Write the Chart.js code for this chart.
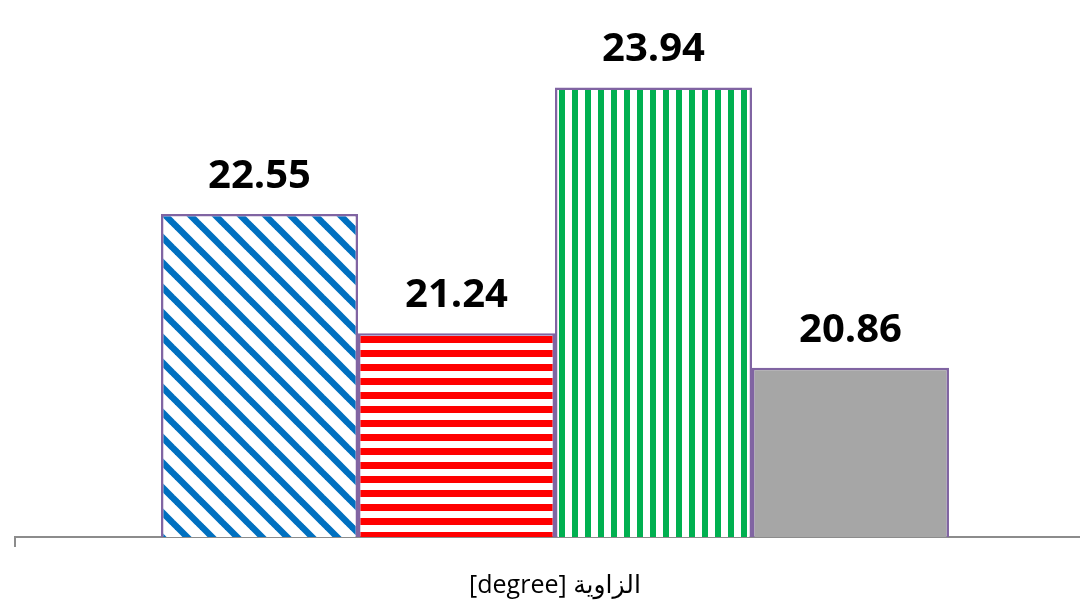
<!DOCTYPE html>
<html>
<head>
<meta charset="utf-8">
<script src="https://cdn.jsdelivr.net/npm/chart.js@4"></script>
<style>
  html, body { margin: 0; padding: 0; background: #fff; overflow: hidden; }
  #wrap { width: 1100px; height: 605px; position: relative; }
</style>
</head>
<body>
<div id="wrap"><canvas id="chart"></canvas></div>
<script>
const categories = [''];
const seriesNames = ['Series 1', 'Series 2', 'Series 3', 'Series 4'];
const values = [22.55, 21.24, 23.94, 20.86];
const axisTitle = '[degree] الزاوية';
const yMin = 19;
const yMax = 24;

function makePattern(kind) {
    let c = document.createElement('canvas');
    let g = c.getContext('2d');
    if (kind == 'diag') {
        let s = 25;
        c.width = s; c.height = s;
        g.fillStyle = '#ffffff';
        g.fillRect(0, 0, s, s);
        g.strokeStyle = '#0070c0';
        g.lineWidth = 6.5;
        for (let k = -1; k <= 1; k++) {
            g.beginPath();
            g.moveTo(k * s - 2, -2);
            g.lineTo(k * s + s + 2, s + 2);
            g.stroke();
        }
    } else if (kind == 'horiz') {
        c.width = 14; c.height = 14;
        g.fillStyle = '#ffffff';
        g.fillRect(0, 0, 14, 14);
        g.fillStyle = '#ff0000';
        g.fillRect(0, 0, 14, 7);
    } else {
        c.width = 13; c.height = 13;
        g.fillStyle = '#ffffff';
        g.fillRect(0, 0, 13, 13);
        g.fillStyle = '#00b050';
        g.fillRect(0, 0, 6, 13);
    }
    return g.createPattern(c, 'repeat');
}

const fills = [makePattern('diag'), makePattern('horiz'), makePattern('vert'), '#a6a6a6'];

const valueLabels = {
    id: 'valueLabels',
    afterDatasetsDraw(chart) {
        let ctx = chart.ctx;
        ctx.save();
        ctx.font = 'bold 40px "Open Sans", "DejaVu Sans", sans-serif';
        ctx.fillStyle = '#000';
        ctx.textAlign = 'center';
        ctx.textBaseline = 'alphabetic';
        chart.data.datasets.forEach((ds, i) => {
            let bar = chart.getDatasetMeta(i).data[0];
            ctx.fillText(ds.data[0].toFixed(2), bar.x, bar.y - 26);
        });
        ctx.restore();
    }
};

let ctx = document.getElementById('chart').getContext('2d');

new Chart(ctx, {
    type: 'bar',
    data: {
        labels: categories,
        datasets: seriesNames.map((name, i) => ({
            label: name,
            data: [values[i]],
            backgroundColor: fills[i],
            borderColor: '#8064a2',
            borderWidth: 2.5,
            categoryPercentage: 0.7296,
            barPercentage: 1.0
        }))
    },
    options: {
        responsive: true,
        maintainAspectRatio: false,
        animation: false,
        layout: { padding: { top: 82, left: 15, right: 5, bottom: 0 } },
        plugins: {
            legend: { display: false },
            tooltip: { enabled: false }
        },
        scales: {
            x: {
                grid: {
                    drawOnChartArea: false,
                    drawTicks: true,
                    tickLength: 10,
                    color: '#8c8c8c',
                    lineWidth: 2
                },
                border: { display: true, color: '#8c8c8c', width: 2 },
                ticks: { display: false },
                title: {
                    display: true,
                    text: axisTitle,
                    color: '#000',
                    font: { family: '"Open Sans", "DejaVu Sans", sans-serif', size: 25 },
                    padding: { top: 24, bottom: 4 }
                }
            },
            y: {
                display: false,
                min: yMin,
                max: yMax
            }
        }
    },
    plugins: [valueLabels]
});
</script>
</body>
</html>
